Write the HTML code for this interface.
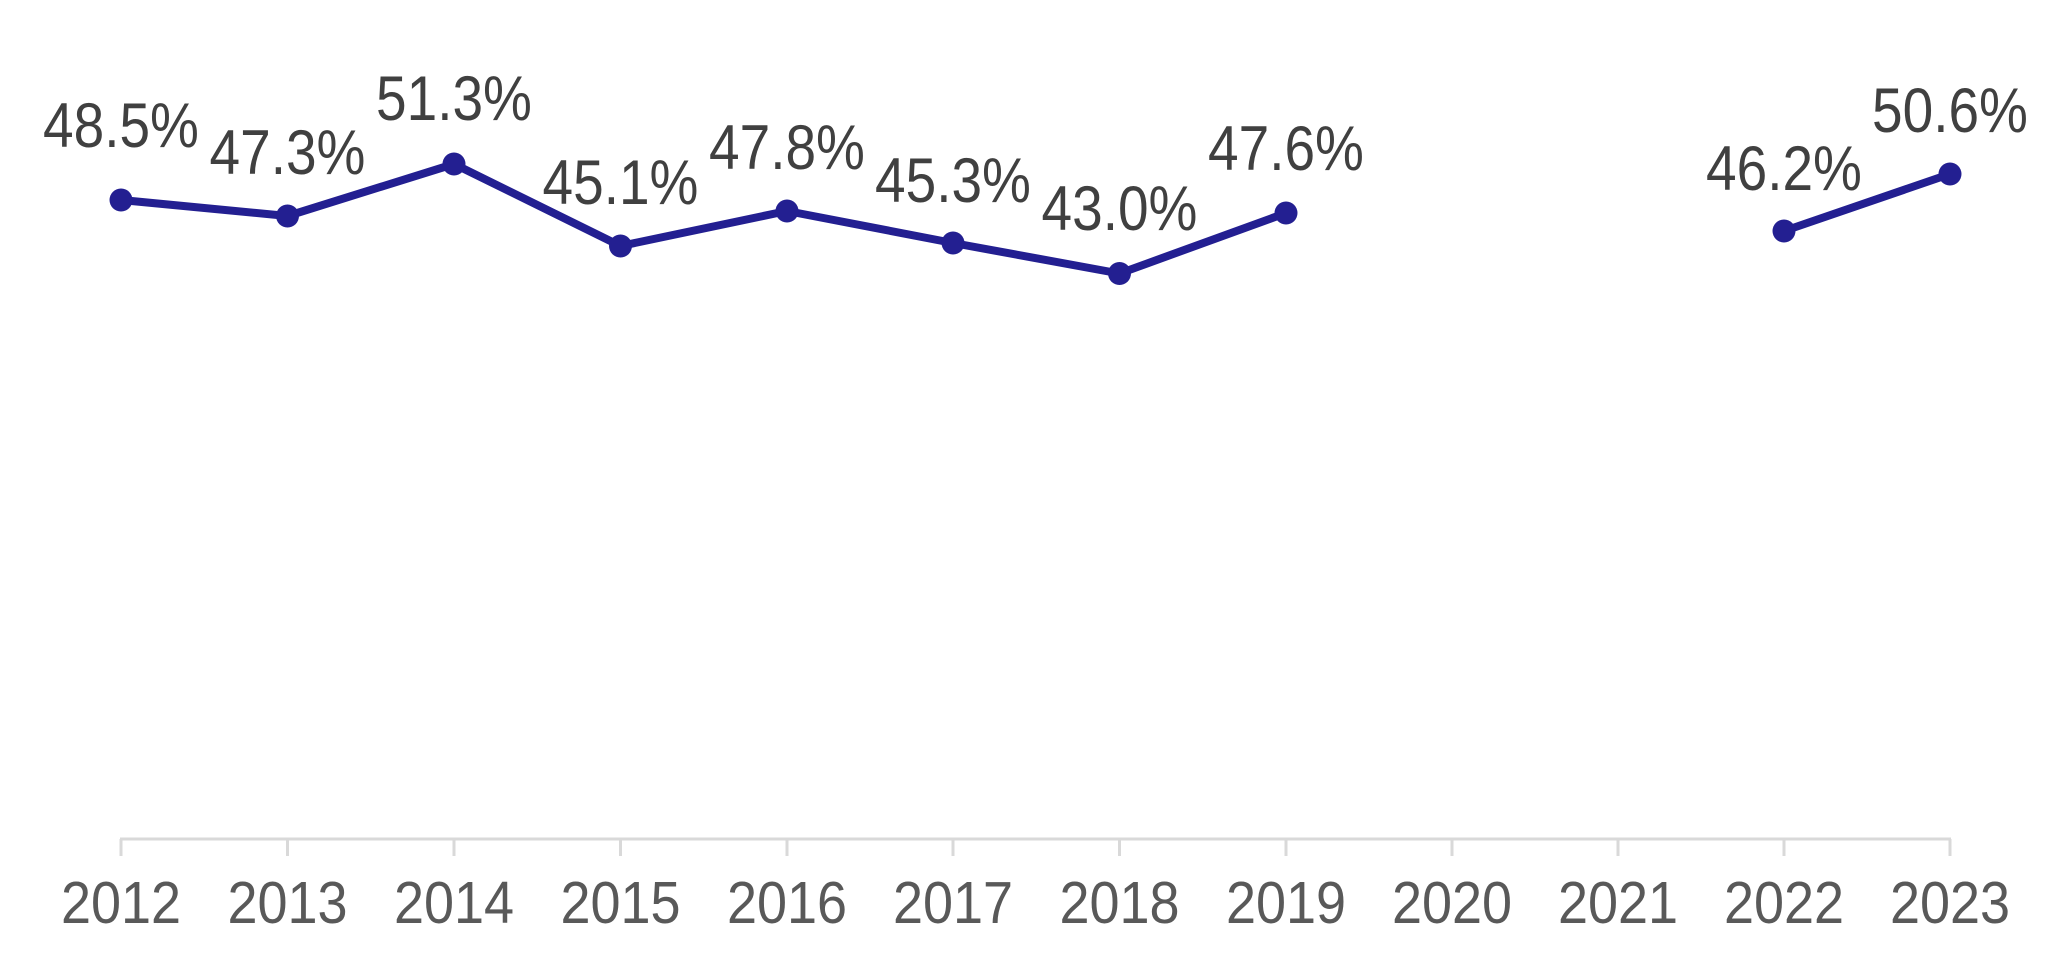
<!DOCTYPE html>
<html><head><meta charset="utf-8"><style>html,body{margin:0;padding:0;background:#fff}</style></head>
<body>
<svg width="2053" height="965" viewBox="0 0 2053 965" xmlns="http://www.w3.org/2000/svg" font-family="Liberation Sans, Arial, sans-serif">
<line x1="120" y1="839" x2="1951" y2="839" stroke="#d9d9d9" stroke-width="3"/>
<g stroke="#d9d9d9" stroke-width="3">
<line x1="121" y1="839" x2="121" y2="856"/><line x1="287.5" y1="839" x2="287.5" y2="856"/><line x1="454" y1="839" x2="454" y2="856"/><line x1="620.5" y1="839" x2="620.5" y2="856"/><line x1="787" y1="839" x2="787" y2="856"/><line x1="953" y1="839" x2="953" y2="856"/><line x1="1119.5" y1="839" x2="1119.5" y2="856"/><line x1="1286" y1="839" x2="1286" y2="856"/><line x1="1452" y1="839" x2="1452" y2="856"/><line x1="1618" y1="839" x2="1618" y2="856"/><line x1="1784" y1="839" x2="1784" y2="856"/><line x1="1950" y1="839" x2="1950" y2="856"/>
</g>
<g fill="#595959" font-size="54" text-anchor="middle">
<text transform="translate(121,923) scale(1,1.1)">2012</text><text transform="translate(287.5,923) scale(1,1.1)">2013</text><text transform="translate(454,923) scale(1,1.1)">2014</text><text transform="translate(620.5,923) scale(1,1.1)">2015</text><text transform="translate(787,923) scale(1,1.1)">2016</text><text transform="translate(953,923) scale(1,1.1)">2017</text><text transform="translate(1119.5,923) scale(1,1.1)">2018</text><text transform="translate(1286,923) scale(1,1.1)">2019</text><text transform="translate(1452,923) scale(1,1.1)">2020</text><text transform="translate(1618,923) scale(1,1.1)">2021</text><text transform="translate(1784,923) scale(1,1.1)">2022</text><text transform="translate(1950,923) scale(1,1.1)">2023</text>
</g>
<polyline points="121,200 287.5,216 454,164 620.5,246 787,211 953,243 1119.5,273.5 1286,213" fill="none" stroke="#231f91" stroke-width="8" stroke-linejoin="round"/>
<polyline points="1784,231 1950,174" fill="none" stroke="#231f91" stroke-width="8"/>
<g fill="#231f91">
<circle cx="121" cy="200" r="11.5"/><circle cx="287.5" cy="216" r="11.5"/><circle cx="454" cy="164" r="11.5"/><circle cx="620.5" cy="246" r="11.5"/><circle cx="787" cy="211" r="11.5"/><circle cx="953" cy="243" r="11.5"/><circle cx="1119.5" cy="273.5" r="11.5"/><circle cx="1286" cy="213" r="11.5"/><circle cx="1784" cy="231" r="11.5"/><circle cx="1950" cy="174" r="11.5"/>
</g>
<g fill="#404040" font-size="55" text-anchor="middle">
<text transform="translate(121,147) scale(1,1.15)">48.5%</text><text transform="translate(287.5,174) scale(1,1.15)">47.3%</text><text transform="translate(454,120) scale(1,1.15)">51.3%</text><text transform="translate(620.5,204) scale(1,1.15)">45.1%</text><text transform="translate(787,169) scale(1,1.15)">47.8%</text><text transform="translate(953,202) scale(1,1.15)">45.3%</text><text transform="translate(1119.5,230) scale(1,1.15)">43.0%</text><text transform="translate(1286,170) scale(1,1.15)">47.6%</text><text transform="translate(1784,190) scale(1,1.15)">46.2%</text><text transform="translate(1950,132) scale(1,1.15)">50.6%</text>
</g>
</svg>
</body></html>
